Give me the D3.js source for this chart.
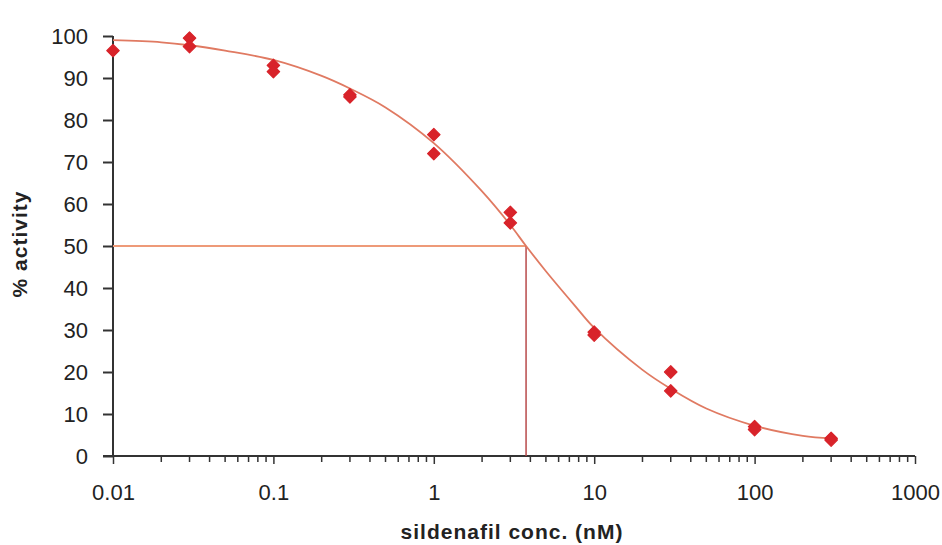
<!DOCTYPE html>
<html>
<head>
<meta charset="utf-8">
<script src="https://cdn.jsdelivr.net/npm/d3@7"></script>
<style>
  body { margin: 0; background: #fff; }
  svg { display: block; font-family: "Liberation Sans", Arial, sans-serif; }
</style>
</head>
<body>
<div id="chart"></div>
<script>
// measured points (two replicates per concentration)
var concs = [0.01, 0.03, 0.03, 0.1, 0.1, 0.3, 0.3, 1, 1, 3, 3, 10, 10, 30, 30, 100, 100, 300, 300];
var activity = [96.5, 99.5, 97.5, 93, 91.5, 86, 85.5, 76.5, 72, 58, 55.5, 29.5, 28.8, 20, 15.5, 7, 6.3, 4.2, 3.8];

// fitted curve
var fitX = [0.01, 0.02, 0.03, 0.05, 0.1, 0.2, 0.3, 0.5, 1, 2, 3, 3.76, 5, 7.5, 10, 20, 30, 50, 100, 200, 300];
var fitY = [99, 98.5, 97.8, 96.5, 94.3, 90.5, 87.5, 83, 74.5, 63, 55, 50, 44, 36, 30.5, 20.5, 16, 11.3, 7.2, 4.8, 4.2];

// IC50 marker
var ic50 = 3.76;
var halfAct = 50;

var xTicks = [0.01, 0.1, 1, 10, 100, 1000];
var xTickLabels = ["0.01", "0.1", "1", "10", "100", "1000"];
var yTicks = [0, 10, 20, 30, 40, 50, 60, 70, 80, 90, 100];

var width = 942, height = 545;
var x = d3.scaleLog().domain([0.01, 1000]).range([113, 915]);
var y = d3.scaleLinear().domain([0, 100]).range([456, 36]);

var svg = d3.select("#chart").append("svg")
  .attr("width", width)
  .attr("height", height);

// minor log ticks 2..9 per decade
var minor = [];
for (var d = 0.01; d < 1000; d *= 10) {
  for (var k = 2; k <= 9; k++) minor.push(d * k);
}

var axisColor = "#333";

svg.append("g")
  .selectAll("line.minor")
  .data(minor)
  .enter()
  .append("line")
  .attr("x1", function (d) { return x(d); })
  .attr("x2", function (d) { return x(d); })
  .attr("y1", y(0))
  .attr("y2", y(0) + 6)
  .attr("stroke", axisColor)
  .attr("stroke-width", 1.5);

var xAxis = svg.append("g")
  .attr("transform", "translate(0," + y(0) + ")")
  .call(d3.axisBottom(x).tickValues(xTicks)
    .tickFormat(function (d, i) { return xTickLabels[i]; })
    .tickSize(8).tickPadding(20));
xAxis.select(".domain").remove();
xAxis.selectAll("line").attr("stroke", axisColor).attr("stroke-width", 1.5);
xAxis.selectAll("text").attr("font-size", 22).attr("fill", "#222");

svg.append("line")
  .attr("x1", x(0.01) - 10).attr("x2", x(1000))
  .attr("y1", y(0)).attr("y2", y(0))
  .attr("stroke", axisColor).attr("stroke-width", 2);

var yAxis = svg.append("g")
  .attr("transform", "translate(" + x(0.01) + ",0)")
  .call(d3.axisLeft(y).tickValues(yTicks).tickSize(10).tickPadding(15));
yAxis.select(".domain").remove();
yAxis.selectAll("line").attr("stroke", axisColor).attr("stroke-width", 2);
yAxis.selectAll("text").attr("font-size", 22).attr("fill", "#222");

svg.append("line")
  .attr("x1", x(0.01)).attr("x2", x(0.01))
  .attr("y1", y(100)).attr("y2", y(0))
  .attr("stroke", axisColor).attr("stroke-width", 2);

// IC50 guide lines
svg.append("line")
  .attr("x1", x(0.01)).attr("x2", x(ic50))
  .attr("y1", y(halfAct)).attr("y2", y(halfAct))
  .attr("stroke", "#ee9a78").attr("stroke-width", 2);
svg.append("line")
  .attr("x1", x(ic50)).attr("x2", x(ic50))
  .attr("y1", y(halfAct)).attr("y2", y(0))
  .attr("stroke", "#b8494a").attr("stroke-width", 1.5);

// fitted curve
svg.append("path")
  .datum(d3.zip(fitX, fitY))
  .attr("fill", "none")
  .attr("stroke", "#e07a62")
  .attr("stroke-width", 1.8)
  .attr("d", d3.line()
    .curve(d3.curveCatmullRom.alpha(0.5))
    .x(function (d) { return x(d[0]); })
    .y(function (d) { return y(d[1]); }));

// markers
svg.append("g")
  .selectAll("path.pt")
  .data(d3.zip(concs, activity))
  .enter()
  .append("path")
  .attr("d", d3.symbol().type(d3.symbolSquare).size(78))
  .attr("transform", function (d) {
    return "translate(" + x(d[0]) + "," + y(d[1]) + ") rotate(45)";
  })
  .attr("fill", "#d8232a")
  .attr("stroke", "#d8232a")
  .attr("stroke-width", 1.2)
  .attr("stroke-linejoin", "round");

// axis titles
svg.append("text")
  .attr("x", 512).attr("y", 539)
  .attr("text-anchor", "middle")
  .attr("font-size", 21).attr("font-weight", "bold").attr("fill", "#222")
  .attr("letter-spacing", 1)
  .text("sildenafil conc. (nM)");

svg.append("text")
  .attr("transform", "translate(27,244) rotate(-90)")
  .attr("text-anchor", "middle")
  .attr("font-size", 21).attr("font-weight", "bold").attr("fill", "#222")
  .attr("letter-spacing", 1)
  .text("% activity");
</script>
</body>
</html>
